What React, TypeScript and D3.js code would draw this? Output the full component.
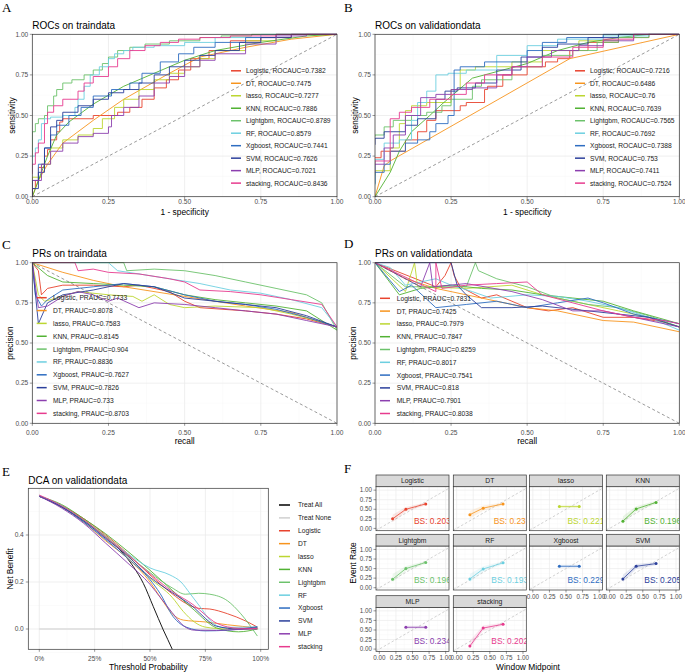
import React from 'react';
import * as d3 from 'd3';

type Pt = [number, number];
type Band = [number, number, number];

const models = ["Logistic", "DT", "lasso", "KNN", "Lightgbm", "RF", "Xgboost", "SVM", "MLP", "stacking"];
const modelColors = ["#E8432E", "#F7941D", "#BCD631", "#52B234", "#6CC26B", "#6CCFE0", "#2E6DC1", "#2B3F9B", "#8C3FAF", "#E73B8E"];

const rocTrainAuc = ["0.7382", "0.7475", "0.7277", "0.7886", "0.8789", "0.8579", "0.7441", "0.7626", "0.7021", "0.8436"];
const rocValidAuc = ["0.7216", "0.6486", "0.76", "0.7639", "0.7565", "0.7692", "0.7388", "0.753", "0.7411", "0.7524"];
const prTrainAuc = ["0.7733", "0.8078", "0.7583", "0.8145", "0.904", "0.8836", "0.7627", "0.7826", "0.733", "0.8703"];
const prValidAuc = ["0.7831", "0.7425", "0.7979", "0.7847", "0.8259", "0.8017", "0.7541", "0.818", "0.7901", "0.8038"];

// models drawn as straight segments instead of steps
const smoothModels = ["DT", "KNN"];

// ROC points (1 - specificity, sensitivity), model order as above
const rocTrainCurves: Pt[][] = [
  [[0, 0], [0.01, 0.05], [0.02, 0.1], [0.04, 0.18], [0.05, 0.25], [0.06, 0.29], [0.08, 0.35], [0.09, 0.4], [0.1, 0.46], [0.12, 0.48], [0.2, 0.48], [0.22, 0.5], [0.28, 0.5], [0.32, 0.52], [0.36, 0.55], [0.4, 0.6], [0.44, 0.67], [0.48, 0.72], [0.52, 0.78], [0.58, 0.85], [0.65, 0.9], [0.75, 0.96], [0.85, 0.98], [0.92, 1], [1, 1]],
  [[0, 0], [0.02, 0.1], [0.05, 0.2], [0.1, 0.33], [0.2, 0.47], [0.3, 0.6], [0.45, 0.76], [0.55, 0.86], [0.7, 0.92], [0.85, 0.97], [1, 1]],
  [[0, 0], [0.03, 0.12], [0.06, 0.2], [0.1, 0.3], [0.15, 0.35], [0.2, 0.38], [0.23, 0.42], [0.27, 0.48], [0.3, 0.55], [0.35, 0.6], [0.4, 0.66], [0.45, 0.72], [0.5, 0.76], [0.55, 0.8], [0.6, 0.85], [0.7, 0.9], [0.8, 0.96], [0.9, 1], [1, 1]],
  [[0, 0], [0.03, 0.15], [0.05, 0.25], [0.08, 0.38], [0.12, 0.46], [0.2, 0.57], [0.3, 0.68], [0.4, 0.76], [0.5, 0.84], [0.6, 0.9], [0.75, 0.95], [0.9, 0.99], [1, 1]],
  [[0, 0.24], [0.01, 0.4], [0.02, 0.45], [0.04, 0.48], [0.05, 0.5], [0.07, 0.56], [0.08, 0.62], [0.1, 0.66], [0.13, 0.7], [0.17, 0.72], [0.2, 0.75], [0.23, 0.78], [0.25, 0.82], [0.28, 0.86], [0.32, 0.9], [0.37, 0.92], [0.45, 0.94], [0.55, 0.96], [0.62, 0.98], [0.72, 0.99], [0.85, 1], [1, 1]],
  [[0, 0.15], [0.01, 0.25], [0.02, 0.3], [0.03, 0.35], [0.04, 0.45], [0.06, 0.48], [0.1, 0.49], [0.14, 0.5], [0.15, 0.55], [0.17, 0.6], [0.19, 0.68], [0.22, 0.75], [0.25, 0.8], [0.27, 0.85], [0.3, 0.88], [0.33, 0.9], [0.4, 0.92], [0.5, 0.93], [0.6, 0.95], [0.75, 0.98], [0.9, 1], [1, 1]],
  [[0, 0.02], [0.02, 0.1], [0.04, 0.2], [0.06, 0.3], [0.08, 0.38], [0.12, 0.44], [0.16, 0.5], [0.2, 0.55], [0.26, 0.62], [0.32, 0.66], [0.36, 0.7], [0.42, 0.76], [0.48, 0.83], [0.53, 0.88], [0.6, 0.92], [0.7, 0.95], [0.8, 0.98], [0.9, 1], [1, 1]],
  [[0, 0], [0.02, 0.05], [0.04, 0.15], [0.06, 0.3], [0.08, 0.43], [0.1, 0.47], [0.15, 0.52], [0.2, 0.56], [0.25, 0.6], [0.3, 0.64], [0.35, 0.66], [0.4, 0.7], [0.45, 0.75], [0.5, 0.8], [0.55, 0.84], [0.6, 0.87], [0.68, 0.9], [0.75, 0.95], [0.85, 0.98], [0.92, 1], [1, 1]],
  [[0, 0], [0.03, 0.1], [0.06, 0.2], [0.1, 0.28], [0.15, 0.33], [0.2, 0.37], [0.25, 0.39], [0.26, 0.43], [0.3, 0.5], [0.35, 0.55], [0.4, 0.62], [0.45, 0.7], [0.5, 0.74], [0.55, 0.8], [0.6, 0.84], [0.7, 0.88], [0.8, 0.94], [0.9, 0.99], [1, 1]],
  [[0, 0.14], [0.01, 0.2], [0.02, 0.27], [0.04, 0.33], [0.05, 0.45], [0.07, 0.52], [0.1, 0.56], [0.15, 0.6], [0.17, 0.65], [0.2, 0.7], [0.25, 0.74], [0.28, 0.8], [0.32, 0.85], [0.37, 0.9], [0.42, 0.93], [0.48, 0.95], [0.55, 0.97], [0.65, 0.98], [0.8, 0.99], [0.92, 1], [1, 1]],
];

const rocValidCurves: Pt[][] = [
  [[0, 0.24], [0.02, 0.24], [0.03, 0.28], [0.1, 0.28], [0.14, 0.35], [0.17, 0.4], [0.2, 0.47], [0.22, 0.53], [0.28, 0.53], [0.3, 0.56], [0.36, 0.58], [0.37, 0.66], [0.42, 0.68], [0.5, 0.75], [0.56, 0.8], [0.6, 0.83], [0.64, 0.85], [0.7, 0.9], [0.8, 0.95], [0.9, 0.98], [1, 1]],
  [[0, 0], [0.03, 0.19], [0.05, 0.22], [0.64, 0.85], [1, 1]],
  [[0, 0.13], [0.05, 0.16], [0.08, 0.3], [0.1, 0.45], [0.12, 0.53], [0.17, 0.56], [0.25, 0.58], [0.28, 0.66], [0.33, 0.78], [0.45, 0.8], [0.55, 0.83], [0.67, 0.9], [0.8, 0.96], [0.9, 1], [1, 1]],
  [[0, 0], [0.05, 0.15], [0.08, 0.28], [0.12, 0.4], [0.18, 0.5], [0.22, 0.57], [0.27, 0.65], [0.32, 0.73], [0.4, 0.77], [0.5, 0.82], [0.6, 0.9], [0.7, 0.95], [0.8, 0.98], [0.9, 1], [1, 1]],
  [[0, 0.37], [0.03, 0.38], [0.06, 0.43], [0.12, 0.47], [0.17, 0.5], [0.22, 0.52], [0.25, 0.56], [0.32, 0.6], [0.35, 0.68], [0.45, 0.72], [0.55, 0.8], [0.65, 0.87], [0.73, 0.9], [0.8, 0.95], [0.9, 0.98], [1, 1]],
  [[0, 0.07], [0.03, 0.23], [0.08, 0.33], [0.12, 0.35], [0.14, 0.47], [0.17, 0.58], [0.2, 0.65], [0.24, 0.75], [0.3, 0.76], [0.4, 0.78], [0.5, 0.87], [0.6, 0.93], [0.75, 0.97], [0.9, 0.99], [1, 1]],
  [[0, 0.08], [0.03, 0.15], [0.05, 0.2], [0.1, 0.28], [0.14, 0.33], [0.18, 0.35], [0.2, 0.4], [0.24, 0.45], [0.26, 0.5], [0.28, 0.78], [0.36, 0.8], [0.5, 0.83], [0.55, 0.9], [0.63, 0.95], [0.75, 0.98], [0.92, 1], [1, 1]],
  [[0, 0.32], [0.03, 0.36], [0.1, 0.4], [0.14, 0.44], [0.2, 0.48], [0.23, 0.6], [0.27, 0.65], [0.33, 0.67], [0.4, 0.7], [0.48, 0.78], [0.55, 0.86], [0.6, 0.92], [0.7, 0.94], [0.8, 0.98], [0.92, 1], [1, 1]],
  [[0, 0.15], [0.03, 0.2], [0.06, 0.3], [0.1, 0.38], [0.15, 0.5], [0.2, 0.61], [0.25, 0.63], [0.32, 0.66], [0.4, 0.67], [0.45, 0.75], [0.5, 0.8], [0.58, 0.86], [0.67, 0.9], [0.75, 0.93], [0.85, 0.96], [0.92, 1], [1, 1]],
  [[0, 0.2], [0.05, 0.22], [0.08, 0.48], [0.12, 0.52], [0.18, 0.55], [0.25, 0.6], [0.3, 0.63], [0.36, 0.7], [0.45, 0.75], [0.55, 0.8], [0.65, 0.86], [0.75, 0.92], [0.85, 0.97], [0.95, 1], [1, 1]],
];

// PR points (recall, precision)
const prTrainCurves: Pt[][] = [
  [[0, 1], [0.02, 0.95], [0.03, 0.8], [0.05, 0.84], [0.1, 0.86], [0.2, 0.86], [0.3, 0.85], [0.35, 0.86], [0.45, 0.82], [0.5, 0.76], [0.55, 0.72], [0.7, 0.7], [0.8, 0.68], [0.9, 0.65], [1, 0.6]],
  [[0, 1], [0.1, 0.94], [0.2, 0.89], [0.3, 0.85], [0.5, 0.79], [0.7, 0.73], [0.85, 0.69], [1, 0.6]],
  [[0, 1], [0.02, 0.8], [0.04, 0.76], [0.08, 0.78], [0.15, 0.82], [0.25, 0.8], [0.33, 0.79], [0.36, 0.76], [0.4, 0.8], [0.45, 0.74], [0.5, 0.72], [0.6, 0.73], [0.75, 0.72], [0.85, 0.68], [0.95, 0.63], [1, 0.6]],
  [[0, 1], [0.05, 0.92], [0.1, 0.88], [0.2, 0.87], [0.3, 0.86], [0.4, 0.85], [0.5, 0.8], [0.6, 0.77], [0.7, 0.75], [0.8, 0.73], [0.9, 0.7], [1, 0.58]],
  [[0, 1], [0.3, 1], [0.31, 0.95], [0.4, 0.96], [0.5, 0.95], [0.6, 0.92], [0.7, 0.88], [0.8, 0.84], [0.9, 0.8], [0.95, 0.75], [1, 0.58]],
  [[0, 1], [0.25, 1], [0.28, 0.95], [0.35, 0.93], [0.45, 0.9], [0.55, 0.87], [0.6, 0.85], [0.65, 0.83], [0.75, 0.81], [0.85, 0.77], [0.95, 0.72], [1, 0.6]],
  [[0, 1], [0.01, 0.8], [0.03, 0.73], [0.05, 0.77], [0.1, 0.83], [0.2, 0.85], [0.3, 0.87], [0.4, 0.85], [0.5, 0.8], [0.6, 0.76], [0.7, 0.74], [0.8, 0.71], [0.9, 0.66], [1, 0.6]],
  [[0, 1], [0.02, 0.62], [0.05, 0.75], [0.1, 0.8], [0.2, 0.83], [0.3, 0.87], [0.4, 0.85], [0.5, 0.78], [0.6, 0.76], [0.7, 0.74], [0.8, 0.72], [0.9, 0.67], [1, 0.6]],
  [[0, 1], [0.02, 0.72], [0.05, 0.73], [0.1, 0.79], [0.15, 0.82], [0.2, 0.8], [0.25, 0.76], [0.28, 0.78], [0.35, 0.72], [0.4, 0.75], [0.5, 0.74], [0.6, 0.72], [0.7, 0.7], [0.8, 0.68], [0.9, 0.64], [1, 0.6]],
  [[0, 1], [0.14, 1], [0.15, 0.95], [0.2, 0.96], [0.25, 0.94], [0.35, 0.93], [0.45, 0.9], [0.5, 0.88], [0.55, 0.83], [0.65, 0.82], [0.75, 0.8], [0.85, 0.77], [0.95, 0.74], [1, 0.6]],
];

const prValidCurves: Pt[][] = [
  [[0, 1], [0.2, 0.85], [0.23, 0.92], [0.25, 1], [0.26, 0.92], [0.28, 0.85], [0.35, 0.78], [0.4, 0.8], [0.45, 0.76], [0.5, 0.72], [0.57, 0.7], [0.65, 0.72], [0.75, 0.66], [0.85, 0.66], [0.95, 0.63], [1, 0.6]],
  [[0, 1], [0.1, 0.9], [0.2, 0.84], [0.3, 0.8], [0.5, 0.72], [0.6, 0.7], [0.75, 0.64], [0.85, 0.63], [1, 0.57]],
  [[0, 1], [0.1, 0.82], [0.13, 1], [0.14, 0.85], [0.3, 0.84], [0.45, 0.86], [0.55, 0.8], [0.6, 0.78], [0.7, 0.74], [0.8, 0.7], [0.9, 0.66], [1, 0.6]],
  [[0, 1], [0.08, 0.8], [0.15, 0.84], [0.25, 0.86], [0.35, 0.84], [0.45, 0.83], [0.55, 0.8], [0.65, 0.78], [0.75, 0.76], [0.85, 0.7], [1, 0.62]],
  [[0, 1], [0.1, 0.85], [0.3, 0.85], [0.33, 1], [0.34, 0.95], [0.4, 0.9], [0.5, 0.85], [0.6, 0.78], [0.7, 0.74], [0.8, 0.72], [0.9, 0.67], [1, 0.6]],
  [[0, 1], [0.05, 0.97], [0.1, 0.86], [0.15, 0.88], [0.2, 0.9], [0.25, 0.86], [0.32, 0.82], [0.38, 0.78], [0.5, 0.8], [0.6, 0.79], [0.7, 0.76], [0.8, 0.72], [0.9, 0.66], [1, 0.58]],
  [[0, 1], [0.08, 0.82], [0.12, 0.86], [0.2, 0.72], [0.3, 0.74], [0.4, 0.76], [0.5, 0.72], [0.6, 0.75], [0.7, 0.78], [0.75, 0.75], [0.85, 0.68], [0.95, 0.64], [1, 0.62]],
  [[0, 1], [0.25, 1], [0.27, 0.86], [0.3, 0.8], [0.35, 0.72], [0.45, 0.72], [0.55, 0.73], [0.7, 0.7], [0.8, 0.68], [0.9, 0.66], [1, 0.6]],
  [[0, 1], [0.15, 0.85], [0.18, 1], [0.19, 0.85], [0.3, 0.87], [0.45, 0.82], [0.55, 0.77], [0.65, 0.7], [0.75, 0.7], [0.85, 0.66], [0.95, 0.62], [1, 0.6]],
  [[0, 1], [0.2, 0.82], [0.2, 1], [0.22, 0.84], [0.3, 0.86], [0.4, 0.87], [0.5, 0.88], [0.55, 0.8], [0.65, 0.75], [0.75, 0.7], [0.85, 0.66], [0.95, 0.64], [1, 0.62]],
];

// DCA (threshold, net benefit)
const dcaTreatAll: Pt[] = [[0, 0.565], [0.1, 0.52], [0.2, 0.46], [0.3, 0.39], [0.365, 0.336], [0.425, 0.265], [0.47, 0.194], [0.515, 0.095], [0.56, -0.004], [0.6, -0.085], [0.62, -0.13]];
const dcaTreatNone: Pt[] = [[0, 0], [0.99, 0]];
const dcaCurves: Pt[][] = [
  [[0, 0.565], [0.1, 0.525], [0.2, 0.47], [0.3, 0.4], [0.4, 0.32], [0.5, 0.23], [0.6, 0.15], [0.66, 0.11], [0.72, 0.088], [0.77, 0.085], [0.85, 0.065], [0.93, 0.035], [0.985, 0.008]],
  [[0, 0.565], [0.1, 0.52], [0.2, 0.455], [0.3, 0.375], [0.4, 0.3], [0.5, 0.2], [0.55, 0.13], [0.6, 0.065], [0.65, 0.038], [0.75, 0.03], [0.85, 0.018], [0.985, 0.005]],
  [[0, 0.565], [0.1, 0.525], [0.2, 0.465], [0.3, 0.39], [0.4, 0.31], [0.5, 0.215], [0.6, 0.135], [0.65, 0.075], [0.7, 0.03], [0.75, 0.008], [0.85, 0], [0.985, 0]],
  [[0, 0.565], [0.1, 0.53], [0.2, 0.47], [0.3, 0.405], [0.4, 0.33], [0.5, 0.25], [0.6, 0.165], [0.7, 0.08], [0.8, 0.005], [0.9, -0.012], [0.985, 0]],
  [[0, 0.565], [0.1, 0.525], [0.2, 0.465], [0.3, 0.395], [0.4, 0.315], [0.5, 0.24], [0.6, 0.175], [0.66, 0.148], [0.72, 0.152], [0.77, 0.148], [0.85, 0.12], [0.91, 0.065], [0.985, -0.03]],
  [[0, 0.565], [0.1, 0.525], [0.2, 0.46], [0.3, 0.39], [0.4, 0.32], [0.5, 0.26], [0.59, 0.23], [0.64, 0.2], [0.68, 0.152], [0.726, 0.095], [0.77, 0.038], [0.83, 0.007], [0.985, 0.008]],
  [[0, 0.565], [0.1, 0.52], [0.2, 0.455], [0.3, 0.38], [0.4, 0.3], [0.5, 0.21], [0.545, 0.152], [0.605, 0.052], [0.666, 0.007], [0.75, -0.008], [0.85, -0.005], [0.985, 0.01]],
  [[0, 0.565], [0.1, 0.52], [0.2, 0.46], [0.3, 0.385], [0.4, 0.31], [0.5, 0.22], [0.6, 0.155], [0.7, 0.09], [0.75, 0.045], [0.8, 0.012], [0.9, 0], [0.985, 0.005]],
  [[0, 0.565], [0.1, 0.515], [0.2, 0.45], [0.3, 0.365], [0.4, 0.28], [0.5, 0.19], [0.55, 0.13], [0.6, 0.07], [0.65, 0.015], [0.7, -0.005], [0.8, -0.006], [0.9, -0.002], [0.985, 0]],
  [[0, 0.57], [0.1, 0.525], [0.2, 0.465], [0.3, 0.39], [0.4, 0.315], [0.5, 0.235], [0.6, 0.16], [0.7, 0.1], [0.75, 0.06], [0.8, 0.025], [0.9, 0.003], [0.985, 0.002]],
];
const dcaXTicks = [0, 0.25, 0.5, 0.75, 1];
const dcaXLabels = ["0%", "25%", "50%", "75%", "100%"];
const dcaYTicks = [0, 0.2, 0.4];

// calibration (window midpoint, event rate)
const calibPoints: Pt[][] = [
  [[0.2, 0.25], [0.4, 0.5], [0.7, 0.64]],
  [[0.2, 0.36], [0.4, 0.53], [0.7, 0.64]],
  [[0.4, 0.57], [0.7, 0.57]],
  [[0.2, 0.19], [0.4, 0.51], [0.7, 0.68]],
  [[0.2, 0.22], [0.4, 0.5], [0.7, 0.66]],
  [[0.2, 0.23], [0.4, 0.49], [0.7, 0.65]],
  [[0.4, 0.56], [0.7, 0.56]],
  [[0.2, 0.23], [0.4, 0.56], [0.7, 0.63]],
  [[0.4, 0.57], [0.7, 0.57]],
  [[0.2, 0.08], [0.4, 0.55], [0.7, 0.65]],
];
const calibBands: Band[][] = [
  [[0.2, 0.16, 0.36], [0.4, 0.44, 0.56], [0.7, 0.6, 0.68]],
  [[0.2, 0.26, 0.46], [0.4, 0.46, 0.6], [0.7, 0.6, 0.68]],
  [[0.4, 0.53, 0.61], [0.7, 0.53, 0.61]],
  [[0.2, 0.12, 0.32], [0.4, 0.44, 0.58], [0.7, 0.64, 0.72]],
  [[0.2, 0.14, 0.36], [0.4, 0.43, 0.57], [0.7, 0.62, 0.7]],
  [[0.2, 0.14, 0.36], [0.4, 0.42, 0.56], [0.7, 0.61, 0.69]],
  [[0.4, 0.52, 0.6], [0.7, 0.52, 0.6]],
  [[0.2, 0.14, 0.34], [0.4, 0.49, 0.62], [0.7, 0.59, 0.67]],
  [[0.4, 0.53, 0.61], [0.7, 0.53, 0.61]],
  [[0.2, 0.02, 0.22], [0.4, 0.48, 0.62], [0.7, 0.61, 0.69]],
];
const brierScores = ["0.203", "0.23", "0.221", "0.196", "0.196", "0.193", "0.229", "0.205", "0.234", "0.202"];

const quarterTicks = [0, 0.25, 0.5, 0.75, 1];
const eighthTicks = [0.125, 0.375, 0.625, 0.875];

const sans = "'Liberation Sans', Arial, Helvetica, sans-serif";
const serif = "'Liberation Serif', 'Times New Roman', serif";
const tickColor = "#4D4D4D";
const gridMajor = "#EBEBEB";
const gridMinor = "#F4F4F4";
const fmt2 = d3.format(".2f");

interface CurvePanelProps {
  id: string;
  letter: string;
  letterX: number;
  letterY: number;
  title: string;
  titleY: number;
  left: number;
  right: number;
  top: number;
  bottom: number;
  curves: Pt[][];
  labels: string[];
  stepped: boolean;
  diag: 'up' | 'down';
  legend: { k0: number; k1: number; tx: number; y0: number; dy: number };
  xTitle: string;
  xTickY: number;
  xTitleY: number;
  yTitle: string;
  yTitleX: number;
}

const CurvePanel = (p: CurvePanelProps) => {
  const x = d3.scaleLinear().domain([0, 1]).range([p.left, p.right]);
  const y = d3.scaleLinear().domain([0, 1]).range([p.bottom, p.top]);
  const w = p.right - p.left;
  const h = p.bottom - p.top;

  return (
    <g>
      <text x={p.letterX} y={p.letterY} fontFamily={serif} fontSize={13}>{p.letter}</text>
      <text x={p.left} y={p.titleY} fontSize={10} fill="#000">{p.title}</text>
      <clipPath id={p.id}><rect x={p.left} y={p.top - 1} width={w} height={h + 2} /></clipPath>
      <rect x={p.left} y={p.top} width={w} height={h} fill="#fff" />
      {eighthTicks.map(t => (
        <g key={'m' + t}>
          <line x1={x(t)} x2={x(t)} y1={p.top} y2={p.bottom} stroke={gridMinor} strokeWidth={0.4} />
          <line x1={p.left} x2={p.right} y1={y(t)} y2={y(t)} stroke={gridMinor} strokeWidth={0.4} />
        </g>
      ))}
      {quarterTicks.map(t => (
        <g key={'M' + t}>
          <line x1={x(t)} x2={x(t)} y1={p.top} y2={p.bottom} stroke={gridMajor} strokeWidth={0.8} />
          <line x1={p.left} x2={p.right} y1={y(t)} y2={y(t)} stroke={gridMajor} strokeWidth={0.8} />
        </g>
      ))}
      <g clipPath={`url(#${p.id})`}>
        {p.curves.map((c, i) => {
          const curve = p.stepped && !smoothModels.includes(models[i]) ? d3.curveStepBefore : d3.curveLinear;
          const line = d3.line<Pt>().x(d => x(d[0])).y(d => y(d[1])).curve(curve);
          return <path key={models[i]} d={line(c) || ''} fill="none" stroke={modelColors[i]} strokeWidth={0.9} />;
        })}
        <line x1={x(0)} y1={y(p.diag === 'up' ? 0 : 1)} x2={x(1)} y2={y(p.diag === 'up' ? 1 : 0)}
          stroke="#555" strokeWidth={0.6} strokeDasharray="3,2.5" />
      </g>
      {p.labels.map((lab, i) => {
        const ly = p.legend.y0 + i * p.legend.dy;
        return (
          <g key={'l' + i}>
            <line x1={p.legend.k0} x2={p.legend.k1} y1={ly} y2={ly} stroke={modelColors[i]} strokeWidth={1.5} />
            <text x={p.legend.tx} y={ly + 2.4} fontSize={6.7} fill="#1A1A1A">{lab}</text>
          </g>
        );
      })}
      <rect x={p.left} y={p.top} width={w} height={h} fill="none" stroke="#333" strokeWidth={0.7} />
      {quarterTicks.map(t => (
        <g key={'t' + t}>
          <line x1={x(t)} x2={x(t)} y1={p.bottom} y2={p.bottom + 2.5} stroke="#333" strokeWidth={0.5} />
          <text x={x(t)} y={p.xTickY} fontSize={6.6} textAnchor="middle" fill={tickColor}>{fmt2(t)}</text>
          <line x1={p.left - 2.5} x2={p.left} y1={y(t)} y2={y(t)} stroke="#333" strokeWidth={0.5} />
          <text x={p.left - 4} y={y(t) + 2.3} fontSize={6.6} textAnchor="end" fill={tickColor}>{fmt2(t)}</text>
        </g>
      ))}
      <text x={(p.left + p.right) / 2} y={p.xTitleY} fontSize={8.4} textAnchor="middle">{p.xTitle}</text>
      <text transform={`translate(${p.yTitleX},${(p.top + p.bottom) / 2}) rotate(-90)`} fontSize={8.4} textAnchor="middle">{p.yTitle}</text>
    </g>
  );
};

const DcaPanel = () => {
  const left = 28.3, right = 268.3, top = 488.3, bottom = 649.3;
  const x = d3.scaleLinear().domain([0, 1]).range([39.3, 260.7]);
  const y = d3.scaleLinear().domain([0, 0.4]).range([629, 535]);
  const line = d3.line<Pt>().x(d => x(d[0])).y(d => y(d[1])).curve(d3.curveMonotoneX);
  const xMinor = [0.125, 0.375, 0.625, 0.875];
  const yMinor = [-0.1, 0.1, 0.3, 0.5];
  const legendItems = [
    { name: "Treat All", color: "#000" },
    { name: "Treat None", color: "#D0D0D0" },
    ...models.map((m, i) => ({ name: m, color: modelColors[i] })),
  ];
  return (
    <g>
      <text x={2} y={476} fontFamily={serif} fontSize={13}>E</text>
      <text x={left} y={483.5} fontSize={10}>DCA on validationdata</text>
      <clipPath id="dcaclip"><rect x={left} y={top} width={right - left} height={bottom - top} /></clipPath>
      <rect x={left} y={top} width={right - left} height={bottom - top} fill="#fff" />
      {xMinor.map(t => <line key={'xm' + t} x1={x(t)} x2={x(t)} y1={top} y2={bottom} stroke={gridMinor} strokeWidth={0.4} />)}
      {yMinor.map(t => <line key={'ym' + t} x1={left} x2={right} y1={y(t)} y2={y(t)} stroke={gridMinor} strokeWidth={0.4} />)}
      {dcaXTicks.map(t => <line key={'xM' + t} x1={x(t)} x2={x(t)} y1={top} y2={bottom} stroke={gridMajor} strokeWidth={0.8} />)}
      {dcaYTicks.map(t => <line key={'yM' + t} x1={left} x2={right} y1={y(t)} y2={y(t)} stroke={gridMajor} strokeWidth={0.8} />)}
      <g clipPath="url(#dcaclip)">
        <path d={line(dcaTreatNone) || ''} fill="none" stroke="#D0D0D0" strokeWidth={1.1} />
        <path d={line(dcaTreatAll) || ''} fill="none" stroke="#000" strokeWidth={0.9} />
        {dcaCurves.map((c, i) => (
          <path key={models[i]} d={line(c) || ''} fill="none" stroke={modelColors[i]} strokeWidth={0.9} />
        ))}
      </g>
      <rect x={left} y={top} width={right - left} height={bottom - top} fill="none" stroke="#333" strokeWidth={0.7} />
      {dcaXTicks.map((t, i) => (
        <g key={'xt' + t}>
          <line x1={x(t)} x2={x(t)} y1={bottom} y2={bottom + 2.5} stroke="#333" strokeWidth={0.5} />
          <text x={x(t)} y={661} fontSize={6.6} textAnchor="middle" fill={tickColor}>{dcaXLabels[i]}</text>
        </g>
      ))}
      {dcaYTicks.map(t => (
        <g key={'yt' + t}>
          <line x1={left - 2.5} x2={left} y1={y(t)} y2={y(t)} stroke="#333" strokeWidth={0.5} />
          <text x={left - 4.5} y={y(t) + 2.3} fontSize={6.6} textAnchor="end" fill={tickColor}>{d3.format(".1f")(t)}</text>
        </g>
      ))}
      <text x={(left + right) / 2} y={670} fontSize={8.4} textAnchor="middle">Threshold Probability</text>
      <text transform={`translate(13.3,${(top + bottom) / 2}) rotate(-90)`} fontSize={8.4} textAnchor="middle">Net Benefit</text>
      {legendItems.map((it, i) => {
        const ly = 505 + i * 12.88;
        return (
          <g key={it.name}>
            <line x1={279} x2={290} y1={ly} y2={ly} stroke={it.color} strokeWidth={1.5} />
            <text x={298} y={ly + 2.4} fontSize={6.7} fill="#1A1A1A">{it.name}</text>
          </g>
        );
      })}
    </g>
  );
};

const CalibFacets = () => {
  const colX = [376, 453.3, 529.5, 606.3];
  const stripTop = [475, 534.3, 595.7];
  const pw = 73, sh = 11.7, ph = 44;
  return (
    <g>
      <text x={344} y={473.3} fontFamily={serif} fontSize={13}>F</text>
      {models.map((m, i) => {
        const r = Math.floor(i / 4), c = i % 4;
        const x0 = colX[c], s0 = stripTop[r], p0 = s0 + sh, p1 = p0 + ph;
        const x = d3.scaleLinear().domain([-0.05, 1.05]).range([x0, x0 + pw]);
        const y = d3.scaleLinear().domain([-0.06, 1.09]).range([p1, p0]);
        const line = d3.line<Pt>().x(d => x(d[0])).y(d => y(d[1]));
        const area = d3.area<Band>().x(d => x(d[0])).y0(d => y(d[1])).y1(d => y(d[2]));
        const bottomOfColumn = r === 2 || (r === 1 && c >= 2);
        const cid = `cal${i}`;
        return (
          <g key={m}>
            <clipPath id={cid}><rect x={x0} y={p0} width={pw} height={ph} /></clipPath>
            <rect x={x0} y={p0} width={pw} height={ph} fill="#fff" />
            {eighthTicks.map(t => (
              <g key={'m' + t}>
                <line x1={x(t)} x2={x(t)} y1={p0} y2={p1} stroke={gridMinor} strokeWidth={0.4} />
                <line x1={x0} x2={x0 + pw} y1={y(t)} y2={y(t)} stroke={gridMinor} strokeWidth={0.4} />
              </g>
            ))}
            {quarterTicks.map(t => (
              <g key={'M' + t}>
                <line x1={x(t)} x2={x(t)} y1={p0} y2={p1} stroke={gridMajor} strokeWidth={0.7} />
                <line x1={x0} x2={x0 + pw} y1={y(t)} y2={y(t)} stroke={gridMajor} strokeWidth={0.7} />
              </g>
            ))}
            <g clipPath={`url(#${cid})`}>
              <line x1={x(-0.05)} y1={y(-0.05)} x2={x(1.05)} y2={y(1.05)} stroke="#B3B3B3" strokeWidth={0.6} strokeDasharray="2.5,2" />
              <path d={area(calibBands[i]) || ''} fill={modelColors[i]} fillOpacity={0.12} />
              <path d={line(calibPoints[i]) || ''} fill="none" stroke={modelColors[i]} strokeWidth={0.8} />
              {calibPoints[i].map((d, k) => (
                <circle key={k} cx={x(d[0])} cy={y(d[1])} r={1.5} fill={modelColors[i]} />
              ))}
              <text x={x(0.8)} y={y(0.2) + 3} fontSize={8.4} textAnchor="middle" fill={modelColors[i]}>{`BS: ${brierScores[i]}`}</text>
            </g>
            <rect x={x0} y={p0} width={pw} height={ph} fill="none" stroke="#333" strokeWidth={0.7} />
            <rect x={x0} y={s0} width={pw} height={sh} fill="#D9D9D9" stroke="#333" strokeWidth={0.7} />
            <text x={x0 + pw / 2} y={s0 + sh / 2 + 2.4} fontSize={6.8} textAnchor="middle" fill="#1A1A1A">{m}</text>
            {c === 0 && quarterTicks.map(t => (
              <g key={'y' + t}>
                <line x1={x0 - 2.5} x2={x0} y1={y(t)} y2={y(t)} stroke="#333" strokeWidth={0.5} />
                <text x={x0 - 4} y={y(t) + 2.2} fontSize={6.3} textAnchor="end" fill={tickColor}>{fmt2(t)}</text>
              </g>
            ))}
            {bottomOfColumn && quarterTicks.map(t => (
              <g key={'x' + t}>
                <line x1={x(t)} x2={x(t)} y1={p1} y2={p1 + 2.5} stroke="#333" strokeWidth={0.5} />
                <text x={x(t)} y={p1 + 8.6} fontSize={6.3} textAnchor="middle" fill={tickColor}>{fmt2(t)}</text>
              </g>
            ))}
          </g>
        );
      })}
      <text x={528} y={670} fontSize={8.4} textAnchor="middle">Window Midpoint</text>
      <text transform="translate(356,563) rotate(-90)" fontSize={8.4} textAnchor="middle">Event Rate</text>
    </g>
  );
};

const App = () => {
  const rocLegend = (k0: number) => ({ k0, k1: k0 + 10, tx: k0 + 15, y0: 70.8, dy: 12.48 });
  return (
    <svg width={685} height={672} viewBox="0 0 685 672"
      style={{ position: 'absolute', left: 0, top: 0, background: '#fff' }}
      fontFamily={sans}>
      <rect x={0} y={0} width={685} height={672} fill="#fff" />
      <CurvePanel id="clipA" letter="A" letterX={2} letterY={11.7} title="ROCs on traindata" titleY={28.5}
        left={32.3} right={337} top={34.3} bottom={196.7}
        curves={rocTrainCurves} labels={models.map((m, i) => `${m}, ROCAUC=${rocTrainAuc[i]}`)}
        stepped diag="up" legend={rocLegend(231)}
        xTitle="1 - specificity" xTickY={204.4} xTitleY={215.3} yTitle="sensitivity" yTitleX={15} />
      <CurvePanel id="clipB" letter="B" letterX={344} letterY={11.7} title="ROCs on validationdata" titleY={28.5}
        left={375} right={679.3} top={34.3} bottom={196.7}
        curves={rocValidCurves} labels={models.map((m, i) => `${m}, ROCAUC=${rocValidAuc[i]}`)}
        stepped diag="up" legend={rocLegend(575)}
        xTitle="1 - specificity" xTickY={204.4} xTitleY={215.3} yTitle="sensitivity" yTitleX={357.5} />
      <CurvePanel id="clipC" letter="C" letterX={2} letterY={248.5} title="PRs on traindata" titleY={256.5}
        left={32.3} right={337} top={262.7} bottom={423.3}
        curves={prTrainCurves} labels={models.map((m, i) => `${m}, PRAUC=${prTrainAuc[i]}`)}
        stepped={false} diag="down" legend={{ k0: 36.7, k1: 46.7, tx: 53, y0: 297.7, dy: 12.85 }}
        xTitle="recall" xTickY={435.4} xTitleY={444} yTitle="precision" yTitleX={13.3} />
      <CurvePanel id="clipD" letter="D" letterX={344} letterY={247.5} title="PRs on validationdata" titleY={256.5}
        left={375} right={679.3} top={262.7} bottom={423.3}
        curves={prValidCurves} labels={models.map((m, i) => `${m}, PRAUC=${prValidAuc[i]}`)}
        stepped={false} diag="down" legend={{ k0: 380, k1: 390, tx: 396.7, y0: 298.3, dy: 12.8 }}
        xTitle="recall" xTickY={435.4} xTitleY={444} yTitle="precision" yTitleX={356} />
      <DcaPanel />
      <CalibFacets />
    </svg>
  );
};

export default App;
